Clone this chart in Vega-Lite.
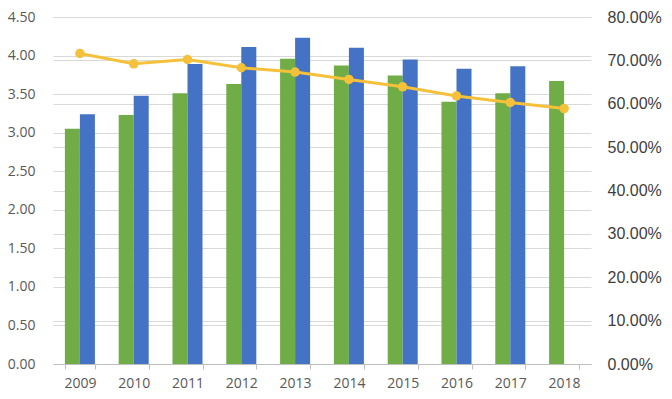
{
  "$schema": "https://vega.github.io/schema/vega-lite/v6.json",
  "autosize": {"type": "none"},
  "width": 538,
  "height": 347,
  "padding": {"left": 53, "top": 17, "right": 81, "bottom": 35},
  "background": "white",
  "config": {
    "view": {"stroke": null},
    "font": "Open Sans",
    "axis": {"labelFont": "Open Sans", "labelColor": "#595959", "labelFontSize": 14, "gridColor": "#D9D9D9", "gridWidth": 1}
  },
  "datasets": {
    "bars": [
      {"year": "2009", "series": "A", "value": 3.05},
      {"year": "2009", "series": "B", "value": 3.24},
      {"year": "2010", "series": "A", "value": 3.23},
      {"year": "2010", "series": "B", "value": 3.48},
      {"year": "2011", "series": "A", "value": 3.51},
      {"year": "2011", "series": "B", "value": 3.89},
      {"year": "2012", "series": "A", "value": 3.63},
      {"year": "2012", "series": "B", "value": 4.11},
      {"year": "2013", "series": "A", "value": 3.96},
      {"year": "2013", "series": "B", "value": 4.23},
      {"year": "2014", "series": "A", "value": 3.87},
      {"year": "2014", "series": "B", "value": 4.10},
      {"year": "2015", "series": "A", "value": 3.74},
      {"year": "2015", "series": "B", "value": 3.95},
      {"year": "2016", "series": "A", "value": 3.40},
      {"year": "2016", "series": "B", "value": 3.83},
      {"year": "2017", "series": "A", "value": 3.51},
      {"year": "2017", "series": "B", "value": 3.86},
      {"year": "2018", "series": "A", "value": 3.67}
    ],
    "line": [
      {"year": "2009", "pct": 0.716},
      {"year": "2010", "pct": 0.692},
      {"year": "2011", "pct": 0.702},
      {"year": "2012", "pct": 0.683},
      {"year": "2013", "pct": 0.673},
      {"year": "2014", "pct": 0.656},
      {"year": "2015", "pct": 0.639},
      {"year": "2016", "pct": 0.618},
      {"year": "2017", "pct": 0.603},
      {"year": "2018", "pct": 0.589}
    ]
  },
  "encoding": {
    "x": {
      "field": "year",
      "type": "nominal",
      "scale": {"paddingInner": 0.442, "paddingOuter": 0.221},
      "axis": {
        "title": null,
        "labelAngle": 0,
        "tickBand": "extent",
        "ticks": true,
        "tickSize": 5,
        "tickColor": "#BFBFBF",
        "domainColor": "#BFBFBF",
        "labelPadding": 7,
        "grid": false
      }
    }
  },
  "layer": [
    {
      "data": {"name": "bars"},
      "mark": {"type": "bar"},
      "encoding": {
        "xOffset": {"field": "series", "type": "nominal", "scale": {"domain": ["A", "B"], "paddingInner": 0, "paddingOuter": 0}},
        "y": {
          "field": "value",
          "type": "quantitative",
          "scale": {"domain": [0, 4.5], "nice": false},
          "axis": {
            "title": null,
            "orient": "left",
            "values": [0, 0.5, 1, 1.5, 2, 2.5, 3, 3.5, 4, 4.5],
            "format": ".2f",
            "domain": false,
            "ticks": false,
            "labelPadding": 18,
            "grid": true
          }
        },
        "color": {"field": "series", "type": "nominal", "scale": {"domain": ["A", "B"], "range": ["#70AD47", "#4472C4"]}, "legend": null}
      }
    },
    {
      "data": {"name": "line"},
      "mark": {"type": "line", "color": "#F5C13B", "strokeWidth": 3, "point": {"filled": true, "size": 90, "color": "#F5C13B"}},
      "encoding": {
        "y": {
          "field": "pct",
          "type": "quantitative",
          "scale": {"domain": [0, 0.8], "nice": false},
          "axis": {
            "title": null,
            "orient": "right",
            "values": [0, 0.1, 0.2, 0.3, 0.4, 0.5, 0.6, 0.7, 0.8],
            "format": ".2%",
            "domain": false,
            "ticks": false,
            "labelPadding": 16,
            "labelFont": "Liberation Sans",
            "labelFontSize": 16,
            "labelColor": "#404040",
            "grid": true
          }
        }
      }
    }
  ],
  "resolve": {"scale": {"y": "independent"}}
}
